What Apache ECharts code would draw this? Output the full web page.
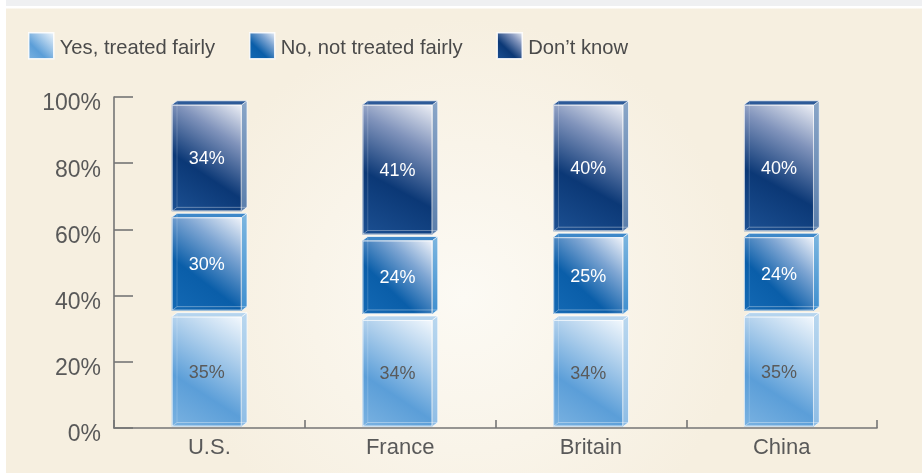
<!DOCTYPE html>
<html>
<head>
<meta charset="utf-8">
<script src="https://cdn.jsdelivr.net/npm/echarts@6/dist/echarts.min.js"></script>
<style>
  html, body { margin: 0; padding: 0; background: #ffffff; }
  #chart { width: 922px; height: 473px; }
</style>
</head>
<body>
<div id="chart"></div>
<script>
// Survey answers by country, in percent
const countries = ['U.S.', 'France', 'Britain', 'China'];
const yesFair = [35, 34, 34, 35];
const notFair = [30, 24, 25, 24];
const dontKnow = [34, 41, 40, 40];
const seriesNames = ['Yes, treated fairly', 'No, not treated fairly', 'Don\u2019t know'];
const yMin = 0, yMax = 100, yStep = 20;

const FONT = '"Liberation Sans", Arial, Helvetica, sans-serif';

// Glass-box shading for each answer group
const palettes = [
  { // light blue
    front: [[0, '#f3f8fd'], [0.32, '#abcdeb'], [0.66, '#5b9ed8'], [1, '#7ab2e1']],
    side: ['#b9d7ef', '#8fbde5'], top: '#b5d4ee', label: '#5a5a5a'
  },
  { // medium blue
    front: [[0, '#f1f4fa'], [0.3, '#7fa6d3'], [0.64, '#0a5ea9'], [1, '#1469b4']],
    side: ['#7cb6e0', '#3f8fcf'], top: '#3e88c9', label: '#ffffff'
  },
  { // navy
    front: [[0, '#eef0f6'], [0.28, '#8093bb'], [0.62, '#0b3876'], [1, '#1c5092']],
    side: ['#8aa6c8', '#5a7eab'], top: '#2d5a98', label: '#ffffff'
  }
];

function frontGradient(p) {
  return new echarts.graphic.LinearGradient(1, 0, 0, 1,
    p.front.map(s => ({ offset: s[0], color: s[1] })));
}

function boxRenderer(p) {
  return function (params, api) {
    const i = api.value(0);
    const lo = api.coord([i, api.value(1)]);
    const hi = api.coord([i, api.value(2)]);
    const catW = api.size([1, 0])[0];
    const dx = 5.3, dy = 4;
    const w = catW * 0.367;
    const left = lo[0] - (w + dx) / 2;
    const right = left + w;
    const backTop = hi[1] + 0.5;
    const frontTop = backTop + dy;
    const frontBot = lo[1] - 1.5;
    const backBot = frontBot - dy;
    const edge = 'rgba(255,255,255,0.7)';
    const faint = 'rgba(255,255,255,0.35)';
    return {
      type: 'group',
      children: [
        { type: 'polygon',
          shape: { points: [[right, frontTop], [right + dx, backTop], [right + dx, backBot], [right, frontBot]] },
          style: { fill: new echarts.graphic.LinearGradient(0, 0, 0, 1,
            [{ offset: 0, color: p.side[0] }, { offset: 1, color: p.side[1] }]) } },
        { type: 'polygon',
          shape: { points: [[left, frontTop], [left + dx, backTop], [right + dx, backTop], [right, frontTop]] },
          style: { fill: p.top } },
        { type: 'rect',
          shape: { x: left, y: frontTop, width: w, height: frontBot - frontTop },
          style: { fill: frontGradient(p) } },
        // back edges seen through the glass
        { type: 'polyline',
          shape: { points: [[left, frontBot], [left + dx, backBot], [right + dx, backBot]] },
          style: { stroke: faint, lineWidth: 1, fill: null } },
        { type: 'line',
          shape: { x1: left + dx, y1: backTop, x2: left + dx, y2: backBot },
          style: { stroke: 'rgba(255,255,255,0.18)', lineWidth: 1 } },
        // visible edges
        { type: 'rect',
          shape: { x: left + 0.5, y: frontTop + 0.5, width: w - 1, height: frontBot - frontTop - 1 },
          style: { stroke: edge, lineWidth: 1, fill: null } },
        { type: 'polyline',
          shape: { points: [[left, frontTop], [left + dx, backTop], [right + dx, backTop], [right + dx, backBot], [right, frontBot]] },
          style: { stroke: edge, lineWidth: 1, fill: null } },
        { type: 'line',
          shape: { x1: right, y1: frontTop, x2: right + dx, y2: backTop },
          style: { stroke: edge, lineWidth: 1 } },
        { type: 'text',
          style: {
            x: left + w / 2, y: (frontTop + frontBot) / 2 + 1,
            text: api.value(3) + '%',
            fill: p.label, font: '18px ' + FONT,
            align: 'center', verticalAlign: 'middle'
          } }
      ]
    };
  };
}

// stack the three answer groups per country
const groups = [yesFair, notFair, dontKnow];
const bases = countries.map(() => 0);
const series = groups.map((vals, k) => {
  const data = vals.map((v, i) => {
    const item = [i, bases[i], bases[i] + v, v];
    bases[i] += v;
    return item;
  });
  return {
    name: seriesNames[k],
    type: 'custom',
    renderItem: boxRenderer(palettes[k]),
    encode: { x: 0, y: [1, 2] },
    itemStyle: { color: frontGradient(palettes[k]) },
    data: data,
    z: 3
  };
});

const chart = echarts.init(document.getElementById('chart'), null, { renderer: 'canvas' });
chart.setOption({
  animation: false,
  backgroundColor: '#ffffff',
  graphic: [
    { type: 'rect', silent: true, z: -10,
      shape: { x: 6, y: 0, width: 916, height: 6 },
      style: { fill: '#eff0f2' } },
    { type: 'rect', silent: true, z: -10,
      shape: { x: 6, y: 8.5, width: 916, height: 465 },
      style: { fill: new echarts.graphic.RadialGradient(0.5, 0.62, 0.6, [
        { offset: 0, color: '#fcfaf4' }, { offset: 0.55, color: '#f9f4e9' }, { offset: 1, color: '#f6efe0' }]) } }
  ],
  legend: {
    left: 23, top: 27,
    orient: 'horizontal',
    itemWidth: 25, itemHeight: 26, itemGap: 34,
    selectedMode: false,
    textStyle: {
      fontFamily: FONT, fontSize: 20.2, color: '#4a4a4a',
      rich: {}, padding: [5, 0, 0, 1]
    },
    formatter: '{name}',
    data: seriesNames.map((n, k) => ({
      name: n, icon: 'rect',
      itemStyle: { color: frontGradient(palettes[k]), borderColor: 'rgba(255,255,255,0.85)', borderWidth: 1.5 }
    }))
  },
  grid: { left: 114, right: 45, top: 97, bottom: 45, containLabel: false, outerBoundsMode: 'none' },
  xAxis: {
    type: 'category',
    data: countries,
    boundaryGap: true,
    axisLine: { show: true, lineStyle: { color: '#757575', width: 1.6 } },
    axisTick: { show: true, inside: true, length: 8, alignWithLabel: false, lineStyle: { color: '#757575', width: 1.6 } },
    axisLabel: { fontFamily: FONT, fontSize: 22, color: '#595959', margin: 9 },
    splitLine: { show: false }
  },
  yAxis: {
    type: 'value',
    min: yMin, max: yMax, interval: yStep,
    axisLine: { show: true, lineStyle: { color: '#757575', width: 1.6 } },
    axisTick: { show: true, inside: true, length: 19, lineStyle: { color: '#757575', width: 1.6 } },
    axisLabel: {
      margin: 13,
      formatter: '{v|{value}%}',
      rich: { v: { fontFamily: FONT, fontSize: 23, color: '#595959', padding: [14, 0, 0, 0] } }
    },
    splitLine: { show: false }
  },
  series: series
});
</script>
</body>
</html>
